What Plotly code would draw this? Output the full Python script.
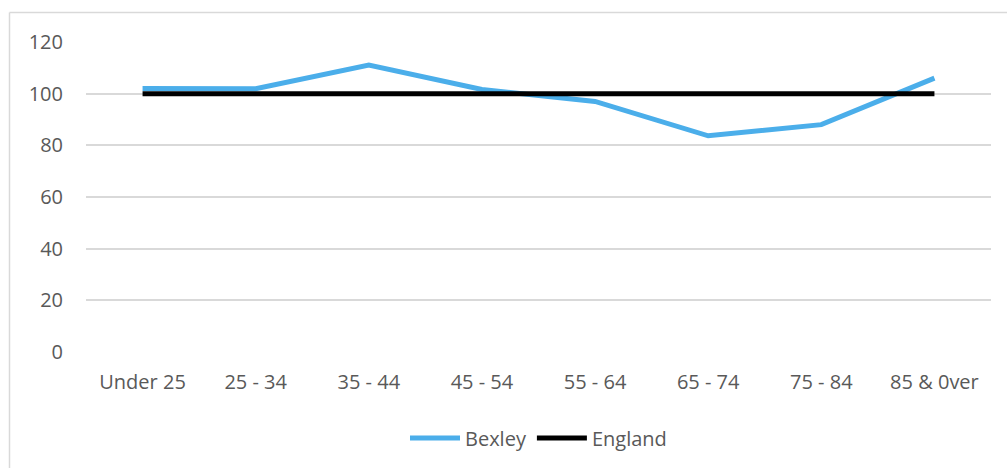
import plotly.graph_objects as go

categories = ["Under 25", "25 - 34", "35 - 44", "45 - 54", "55 - 64", "65 - 74", "75 - 84", "85 & 0ver"]
bexley = [102.0, 101.9, 111.1, 101.6, 97.0, 83.7, 88.0, 106.0]
england = [100, 100, 100, 100, 100, 100, 100, 100]
y_ticks = [0, 20, 40, 60, 80, 100, 120]

W, H = 1007, 468
L, R, T, B = 86, 16, 42, 115
pw, ph = W - L - R, H - T - B

def px_x(x):
    return (x - L) / pw

def px_y(y):
    return (H - B - y) / ph

fig = go.Figure()
fig.add_trace(go.Scatter(x=categories, y=bexley, name="Bexley", mode="lines",
                         line=dict(color="#4BAEEA", width=5)))
fig.add_trace(go.Scatter(x=categories, y=england, name="England", mode="lines",
                         line=dict(color="#000000", width=5)))

font = "Open Sans, Liberation Sans, sans-serif"
fs = 20
fig.update_layout(
    width=W, height=H,
    margin=dict(l=L, r=R, t=T, b=B),
    paper_bgcolor="white", plot_bgcolor="white",
    font=dict(family=font, size=fs, color="#595959"),
    showlegend=True,
    legend=dict(orientation="h", x=0.5, xanchor="center", y=px_y(438), yanchor="middle",
                font=dict(size=fs, color="#595959"), itemwidth=50, tracegroupgap=0),
    xaxis=dict(type="category", range=[-0.5, 7.5], showgrid=False, showline=False,
               zeroline=False, ticks="", ticklabelstandoff=16,
               tickfont=dict(size=fs, color="#595959")),
    yaxis=dict(range=[0, 120], tickvals=y_ticks, showgrid=True, gridcolor="#D9D9D9",
               gridwidth=1.5, zeroline=False, showline=False, ticks="",
               ticklabelstandoff=22, tickfont=dict(size=fs, color="#595959")),
    shapes=[
        dict(type="line", xref="paper", yref="paper", x0=px_x(9.5), x1=px_x(9.5),
             y0=px_y(480), y1=px_y(12.5), line=dict(color="#D9D9D9", width=1.5)),
        dict(type="line", xref="paper", yref="paper", x0=px_x(9.5), x1=px_x(1020),
             y0=px_y(12.5), y1=px_y(12.5), line=dict(color="#D9D9D9", width=1.5)),
    ],
)

fig.write_html("out.html")
